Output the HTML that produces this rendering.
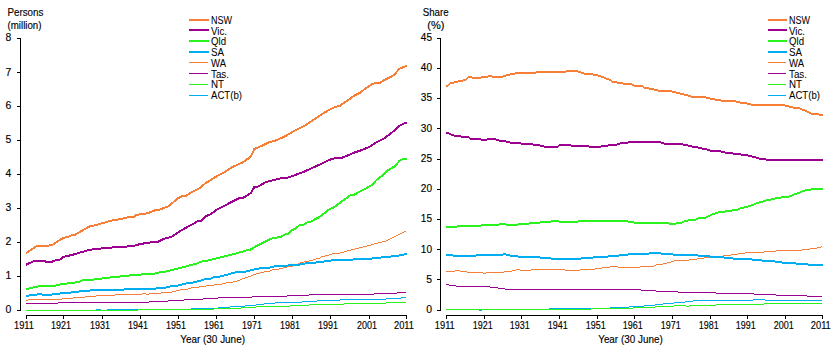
<!DOCTYPE html><html><head><meta charset="utf-8"><style>html,body{margin:0;padding:0;background:#fff;width:834px;height:352px;overflow:hidden}svg{display:block}text{font-family:"Liberation Sans",sans-serif;font-size:11px;fill:#000;stroke:#000;stroke-width:0.15px}</style></head><body>
<svg width="834" height="352" viewBox="0 0 834 352">
<path fill="#00AEEF" shape-rendering="crispEdges" d="M26,310h70v1h-70zM96,309h5v1h-5zM101,310h6v1h-6zM107,309h84v1h-84zM191,308h27v1h-27zM218,307h12v1h-12zM230,306h15v1h-15zM245,305h11v1h-11zM256,304h8v1h-8zM264,303h11v1h-11zM275,302h27v1h-27zM302,301h15v1h-15zM317,300h23v1h-23zM340,299h46v1h-46zM386,298h15v1h-15zM401,297h5v1h-5z"/>
<path fill="#2AF21C" shape-rendering="crispEdges" d="M26,310h112v1h-112zM138,309h76v1h-76zM214,308h27v1h-27zM241,307h15v1h-15zM256,306h34v1h-34zM290,305h19v1h-19zM309,304h35v1h-35zM344,303h42v1h-42zM386,302h20v1h-20z"/>
<path fill="#9D0090" shape-rendering="crispEdges" d="M26,303h32v1h-32zM58,302h91v1h-91zM149,301h19v1h-19zM168,300h16v1h-16zM184,299h19v1h-19zM203,298h15v1h-15zM218,297h34v1h-34zM252,296h35v1h-35zM287,295h22v1h-22zM309,294h65v1h-65zM374,293h23v1h-23zM397,292h9v1h-9z"/>
<path fill="none" stroke="#F67E36" stroke-width="1" stroke-linejoin="round" shape-rendering="crispEdges" d="M26.00,300.50M406.00,231.50"/>
<path fill="#F67E36" shape-rendering="crispEdges" d="M26,300h2v1h-2zM28,299h34v1h-34zM62,298h11v1h-11zM73,297h12v1h-12zM85,296h11v1h-11zM96,295h19v1h-19zM115,294h27v1h-27zM142,293h4v1h-4zM146,294h3v1h-3zM149,293h12v1h-12zM161,292h11v1h-11zM172,291h4v1h-4zM176,290h4v1h-4zM180,289h8v1h-8zM188,288h3v1h-3zM191,287h8v1h-8zM199,286h7v1h-7zM206,285h8v1h-8zM214,284h8v1h-8zM222,283h4v1h-4zM226,282h7v1h-7zM233,281h4v1h-4zM237,280h3v1h-3zM240,279h2v1h-2zM242,278h3v1h-3zM245,277h3v1h-3zM248,276h3v1h-3zM251,275h2v1h-2zM253,274h3v1h-3zM256,273h4v1h-4zM260,272h4v1h-4zM264,271h6v1h-6zM270,270h2v1h-2zM272,269h7v1h-7zM279,268h4v1h-4zM283,267h4v1h-4zM287,266h6v1h-6zM293,265h3v1h-3zM296,264h2v1h-2zM298,263h2v1h-2zM300,262h4v1h-4zM304,261h5v1h-5zM309,260h4v1h-4zM313,259h3v1h-3zM316,258h4v1h-4zM320,257h1v1h-1zM321,256h4v1h-4zM325,255h4v1h-4zM329,254h3v1h-3zM332,253h8v1h-8zM340,252h4v1h-4zM344,251h3v1h-3zM347,250h4v1h-4zM351,249h4v1h-4zM355,248h4v1h-4zM359,247h4v1h-4zM363,246h4v1h-4zM367,245h4v1h-4zM371,244h3v1h-3zM374,243h4v1h-4zM378,242h4v1h-4zM382,241h4v1h-4zM386,240h2v1h-2zM388,239h2v1h-2zM390,238h2v1h-2zM392,237h2v1h-2zM394,236h2v1h-2zM396,235h2v1h-2zM398,234h2v1h-2zM400,233h2v1h-2zM402,232h2v1h-2zM404,231h2v1h-2z"/>
<path fill="none" stroke="#00AEEF" stroke-width="2" stroke-linejoin="round" shape-rendering="crispEdges" d="M26.00,296.00M407.00,254.00"/>
<path fill="#00AEEF" shape-rendering="crispEdges" d="M26,295h3v2h-3zM29,294h8v2h-8zM37,293h5v2h-5zM42,294h10v2h-10zM52,293h8v2h-8zM60,292h11v2h-11zM71,291h8v2h-8zM79,290h11v2h-11zM90,289h34v2h-34zM124,288h32v2h-32zM156,287h10v2h-10zM166,286h4v2h-4zM170,285h8v2h-8zM178,284h4v2h-4zM182,283h4v2h-4zM186,282h7v2h-7zM193,281h4v2h-4zM197,280h4v2h-4zM201,279h3v2h-3zM204,278h7v2h-7zM211,277h2v2h-2zM213,276h7v2h-7zM220,275h4v2h-4zM224,274h4v2h-4zM228,273h3v2h-3zM231,272h4v2h-4zM235,271h11v2h-11zM246,270h4v2h-4zM250,269h4v2h-4zM254,268h5v2h-5zM259,267h11v2h-11zM270,266h4v2h-4zM274,265h14v2h-14zM288,264h12v2h-12zM300,263h5v2h-5zM305,262h11v2h-11zM316,261h8v2h-8zM324,260h7v2h-7zM331,259h22v2h-22zM353,258h19v2h-19zM372,257h9v2h-9zM381,256h10v2h-10zM391,255h8v2h-8zM399,254h5v2h-5zM404,253h3v2h-3z"/>
<path fill="none" stroke="#2AF21C" stroke-width="2" stroke-linejoin="round" shape-rendering="crispEdges" d="M26.00,289.00M250.00,250.00L256.80,245.80L263.30,242.60L273.50,237.70L276.70,237.70L278.40,236.70L281.10,236.70L286.50,233.70L288.10,233.70L292.40,230.00L295.60,228.60L299.90,224.80L303.70,224.70L308.10,221.80L311.10,221.50L319.20,217.10L329.50,209.20L334.00,207.30L344.30,199.60L350.20,195.50L353.20,195.20L359.50,191.80L365.80,188.50L372.00,184.80L377.00,179.50L382.00,175.80L388.30,170.10L394.50,166.40L399.50,160.80L403.30,158.90L407.00,158.90"/>
<path fill="#2AF21C" shape-rendering="crispEdges" d="M26,288h3v2h-3zM29,287h4v2h-4zM33,286h5v2h-5zM38,285h18v2h-18zM56,284h4v2h-4zM60,283h7v2h-7zM67,282h8v2h-8zM75,281h5v2h-5zM80,280h2v2h-2zM82,279h12v2h-12zM94,278h8v2h-8zM102,277h8v2h-8zM110,276h10v2h-10zM120,275h9v2h-9zM129,274h12v2h-12zM141,273h14v2h-14zM155,272h4v2h-4zM159,271h7v2h-7zM166,270h4v2h-4zM170,269h4v2h-4zM174,268h4v2h-4zM178,267h4v2h-4zM182,266h4v2h-4zM186,265h3v2h-3zM189,264h4v2h-4zM193,263h4v2h-4zM197,262h2v2h-2zM199,261h3v2h-3zM202,260h6v2h-6zM208,259h4v2h-4zM212,258h4v2h-4zM216,257h4v2h-4zM220,256h4v2h-4zM224,255h4v2h-4zM228,254h4v2h-4zM232,253h4v2h-4zM236,252h3v2h-3zM239,251h4v2h-4zM243,250h3v2h-3zM246,249h4v2h-4z"/>
<path fill="none" stroke="#9D0090" stroke-width="2" stroke-linejoin="round" shape-rendering="crispEdges" d="M26.00,264.70L32.80,261.60L38.30,260.70L45.10,260.90L45.80,262.00L51.90,262.00L53.30,260.90L60.10,259.60L62.80,257.10L72.40,254.80L90.10,249.70L99.70,248.60L106.50,248.00L117.40,247.00L126.00,246.60L134.50,245.70L140.20,244.00L151.60,242.30L158.70,241.50L164.40,238.60L171.50,236.90L178.60,232.00L187.10,227.00L194.20,223.40L198.40,220.60L201.30,220.60L205.50,216.30L211.20,213.90L216.90,209.70L225.40,205.40L230.00,202.80L238.90,198.40L243.30,197.70L250.70,193.20L254.40,186.90L258.10,186.60L265.50,182.20L274.30,179.90L281.70,178.20L289.10,177.40L292.00,176.20L298.00,174.00L303.90,171.80L312.70,167.70L321.60,163.70L326.00,161.50L331.90,158.80L336.30,158.10L342.20,157.70L349.60,154.70L354.10,152.60L360.00,150.70L368.80,147.30L376.20,142.30L385.10,137.90L392.50,132.00L399.90,125.60L405.80,122.60L407.00,122.91"/>
<path fill="none" stroke="#F67E36" stroke-width="2" stroke-linejoin="round" shape-rendering="crispEdges" d="M26.00,253.20L37.50,245.60L48.10,245.60L52.50,244.80L63.70,237.60L67.50,237.30L72.40,234.70L75.10,234.70L90.10,226.10L94.20,225.50L107.90,221.60L110.60,220.70L120.00,219.20L128.50,217.20L134.20,216.70L137.00,214.60L143.40,214.30L148.40,212.90L155.50,210.10L159.80,209.60L164.00,207.80L169.00,206.10L176.80,199.00L182.50,195.90L186.00,195.90L189.60,193.30L199.50,188.30L205.20,183.40L216.60,176.30L224.00,172.40L232.90,166.80L243.20,162.10L250.60,156.80L254.30,149.10L260.90,146.20L269.80,142.00L275.70,140.50L284.60,136.60L293.40,131.40L303.80,126.20L314.90,118.80L328.20,110.30L335.50,106.70L339.20,106.30L348.80,99.60L354.40,95.50L360.70,92.40L364.10,89.50L370.90,85.00L373.20,83.60L376.60,83.30L380.00,82.70L385.70,79.30L391.40,76.50L394.80,74.20L399.30,68.70L402.70,67.40L407.00,65.70"/>
<path d="M20.5,38 V311 M17,38.5 H20.5 M17,72.5 H20.5 M17,106.5 H20.5 M17,140.5 H20.5 M17,174.5 H20.5 M17,208.5 H20.5 M17,242.5 H20.5 M17,276.5 H20.5 M17,310.5 H20.5" stroke="#000" stroke-width="1" fill="none" shape-rendering="crispEdges"/>
<text x="11.4" y="41" text-anchor="end" textLength="5.8" lengthAdjust="spacingAndGlyphs">8</text>
<text x="11.4" y="76" text-anchor="end" textLength="5.8" lengthAdjust="spacingAndGlyphs">7</text>
<text x="11.4" y="109" text-anchor="end" textLength="5.8" lengthAdjust="spacingAndGlyphs">6</text>
<text x="11.4" y="143" text-anchor="end" textLength="5.8" lengthAdjust="spacingAndGlyphs">5</text>
<text x="11.4" y="177" text-anchor="end" textLength="5.8" lengthAdjust="spacingAndGlyphs">4</text>
<text x="11.4" y="211" text-anchor="end" textLength="5.8" lengthAdjust="spacingAndGlyphs">3</text>
<text x="11.4" y="245" text-anchor="end" textLength="5.8" lengthAdjust="spacingAndGlyphs">2</text>
<text x="11.4" y="279" text-anchor="end" textLength="5.8" lengthAdjust="spacingAndGlyphs">1</text>
<text x="11.4" y="313" text-anchor="end" textLength="5.8" lengthAdjust="spacingAndGlyphs">0</text>
<path d="M26,315.5 H407.0 M26.5,315 V319 M63.5,315 V319 M102.5,315 V319 M140.5,315 V319 M178.5,315 V319 M216.5,315 V319 M254.5,315 V319 M292.5,315 V319 M330.5,315 V319 M369.5,315 V319 M406.5,315 V319" stroke="#000" stroke-width="1" fill="none" shape-rendering="crispEdges"/>
<text x="24" y="329" text-anchor="middle" textLength="20" lengthAdjust="spacingAndGlyphs">1911</text>
<text x="61" y="329" text-anchor="middle" textLength="20" lengthAdjust="spacingAndGlyphs">1921</text>
<text x="100" y="329" text-anchor="middle" textLength="20" lengthAdjust="spacingAndGlyphs">1931</text>
<text x="138" y="329" text-anchor="middle" textLength="20" lengthAdjust="spacingAndGlyphs">1941</text>
<text x="176" y="329" text-anchor="middle" textLength="20" lengthAdjust="spacingAndGlyphs">1951</text>
<text x="214" y="329" text-anchor="middle" textLength="20" lengthAdjust="spacingAndGlyphs">1961</text>
<text x="252" y="329" text-anchor="middle" textLength="20" lengthAdjust="spacingAndGlyphs">1971</text>
<text x="290" y="329" text-anchor="middle" textLength="20" lengthAdjust="spacingAndGlyphs">1981</text>
<text x="328" y="329" text-anchor="middle" textLength="20" lengthAdjust="spacingAndGlyphs">1991</text>
<text x="367" y="329" text-anchor="middle" textLength="20" lengthAdjust="spacingAndGlyphs">2001</text>
<text x="404" y="329" text-anchor="middle" textLength="20" lengthAdjust="spacingAndGlyphs">2011</text>
<path fill="#00AEEF" shape-rendering="crispEdges" d="M446,309h33v1h-33zM479,310h3v1h-3zM482,309h67v1h-67zM549,308h61v1h-61zM610,307h19v1h-19zM629,306h15v1h-15zM644,305h11v1h-11zM655,304h8v1h-8zM663,303h11v1h-11zM674,302h11v1h-11zM685,301h8v1h-8zM693,300h60v1h-60zM753,299h12v1h-12zM765,300h57v1h-57z"/>
<path fill="#2AF21C" shape-rendering="crispEdges" d="M446,309h145v1h-145zM591,308h42v1h-42zM633,307h22v1h-22zM655,306h19v1h-19zM674,305h12v1h-12zM686,306h3v1h-3zM689,305h27v1h-27zM716,304h48v1h-48zM764,303h58v1h-58z"/>
<path fill="#9D0090" shape-rendering="crispEdges" d="M446,284h3v1h-3zM449,285h7v1h-7zM456,286h34v1h-34zM490,287h8v1h-8zM498,288h7v1h-7zM505,289h136v1h-136zM641,290h15v1h-15zM656,291h22v1h-22zM678,292h38v1h-38zM716,293h38v1h-38zM754,294h22v1h-22zM776,295h31v1h-31zM807,296h15v1h-15z"/>
<path fill="none" stroke="#F67E36" stroke-width="1" stroke-linejoin="round" shape-rendering="crispEdges" d="M446.00,271.50M822.00,246.50"/>
<path fill="#F67E36" shape-rendering="crispEdges" d="M446,271h9v1h-9zM455,270h5v1h-5zM460,271h7v1h-7zM467,272h16v1h-16zM483,273h3v1h-3zM486,272h18v1h-18zM504,271h8v1h-8zM512,270h4v1h-4zM516,269h4v1h-4zM520,270h11v1h-11zM531,269h34v1h-34zM565,270h15v1h-15zM580,269h15v1h-15zM595,268h7v1h-7zM602,267h8v1h-8zM610,266h8v1h-8zM618,267h22v1h-22zM640,266h14v1h-14zM654,265h2v1h-2zM656,264h7v1h-7zM663,263h4v1h-4zM667,262h4v1h-4zM671,261h3v1h-3zM674,260h15v1h-15zM689,259h8v1h-8zM697,258h7v1h-7zM704,257h6v1h-6zM710,256h13v1h-13zM723,255h8v1h-8zM731,254h7v1h-7zM738,253h7v1h-7zM745,252h19v1h-19zM764,251h12v1h-12zM776,250h26v1h-26zM802,249h8v1h-8zM810,248h7v1h-7zM817,247h4v1h-4zM821,246h1v1h-1z"/>
<path fill="none" stroke="#00AEEF" stroke-width="2" stroke-linejoin="round" shape-rendering="crispEdges" d="M446.00,255.00M823.00,265.00"/>
<path fill="#00AEEF" shape-rendering="crispEdges" d="M446,254h7v2h-7zM453,255h23v2h-23zM476,254h27v2h-27zM503,253h3v2h-3zM506,254h4v2h-4zM510,255h8v2h-8zM518,256h22v2h-22zM540,257h11v2h-11zM551,258h30v2h-30zM581,257h12v2h-12zM593,256h15v2h-15zM608,255h11v2h-11zM619,254h9v2h-9zM628,253h21v2h-21zM649,252h12v2h-12zM661,253h12v2h-12zM673,254h25v2h-25zM698,255h12v2h-12zM710,256h14v2h-14zM724,257h9v2h-9zM733,258h19v2h-19zM752,259h10v2h-10zM762,260h13v2h-13zM775,261h7v2h-7zM782,262h14v2h-14zM796,263h12v2h-12zM808,264h15v2h-15z"/>
<path fill="none" stroke="#2AF21C" stroke-width="2" stroke-linejoin="round" shape-rendering="crispEdges" d="M446.00,227.00M823.00,189.00"/>
<path fill="#2AF21C" shape-rendering="crispEdges" d="M446,226h11v2h-11zM457,225h24v2h-24zM481,224h18v2h-18zM499,223h7v2h-7zM506,224h12v2h-12zM518,223h11v2h-11zM529,222h11v2h-11zM540,221h11v2h-11zM551,220h8v2h-8zM559,221h19v2h-19zM578,220h50v2h-50zM628,221h6v2h-6zM634,222h35v2h-35zM669,223h7v2h-7zM676,222h6v2h-6zM682,221h2v2h-2zM684,220h4v2h-4zM688,219h8v2h-8zM696,218h2v2h-2zM698,217h8v2h-8zM706,216h2v2h-2zM708,215h2v2h-2zM710,214h2v2h-2zM712,213h3v2h-3zM715,212h3v2h-3zM718,211h7v2h-7zM725,210h7v2h-7zM732,209h6v2h-6zM738,208h2v2h-2zM740,207h4v2h-4zM744,206h4v2h-4zM748,205h3v2h-3zM751,204h3v2h-3zM754,203h2v2h-2zM756,202h3v2h-3zM759,201h4v2h-4zM763,200h3v2h-3zM766,199h5v2h-5zM771,198h4v2h-4zM775,197h6v2h-6zM781,196h8v2h-8zM789,195h3v2h-3zM792,194h2v2h-2zM794,193h3v2h-3zM797,192h3v2h-3zM800,191h2v2h-2zM802,190h3v2h-3zM805,189h6v2h-6zM811,188h12v2h-12z"/>
<path fill="none" stroke="#9D0090" stroke-width="2" stroke-linejoin="round" shape-rendering="crispEdges" d="M446.00,133.00M823.00,160.00"/>
<path fill="#9D0090" shape-rendering="crispEdges" d="M446,132h3v2h-3zM449,133h2v2h-2zM451,134h3v2h-3zM454,135h7v2h-7zM461,136h8v2h-8zM469,137h1v2h-1zM470,138h11v2h-11zM481,139h6v2h-6zM487,138h9v2h-9zM496,139h3v2h-3zM499,140h7v2h-7zM506,141h4v2h-4zM510,142h11v2h-11zM521,143h12v2h-12zM533,144h7v2h-7zM540,145h4v2h-4zM544,146h14v2h-14zM558,145h1v2h-1zM559,144h12v2h-12zM571,145h18v2h-18zM589,146h12v2h-12zM601,145h7v2h-7zM608,144h9v2h-9zM617,143h3v2h-3zM620,142h8v2h-8zM628,141h33v2h-33zM661,142h3v2h-3zM664,143h19v2h-19zM683,144h5v2h-5zM688,145h4v2h-4zM692,146h6v2h-6zM698,147h4v2h-4zM702,148h5v2h-5zM707,149h3v2h-3zM710,150h11v2h-11zM721,151h4v2h-4zM725,152h8v2h-8zM733,153h8v2h-8zM741,154h7v2h-7zM748,155h4v2h-4zM752,156h4v2h-4zM756,157h3v2h-3zM759,158h7v2h-7zM766,159h57v2h-57z"/>
<path fill="none" stroke="#F67E36" stroke-width="2" stroke-linejoin="round" shape-rendering="crispEdges" d="M446.00,86.00M823.00,115.00"/>
<path fill="#F67E36" shape-rendering="crispEdges" d="M446,85h2v2h-2zM448,84h1v2h-1zM449,83h1v2h-1zM450,82h4v2h-4zM454,81h4v2h-4zM458,80h5v2h-5zM463,79h3v2h-3zM466,78h1v2h-1zM467,77h1v2h-1zM468,76h4v2h-4zM472,77h9v2h-9zM481,76h7v2h-7zM488,75h4v2h-4zM492,76h11v2h-11zM503,75h3v2h-3zM506,74h4v2h-4zM510,73h5v2h-5zM515,72h21v2h-21zM536,71h30v2h-30zM566,70h12v2h-12zM578,71h3v2h-3zM581,72h3v2h-3zM584,73h9v2h-9zM593,74h5v2h-5zM598,75h3v2h-3zM601,76h3v2h-3zM604,77h2v2h-2zM606,78h3v2h-3zM609,79h2v2h-2zM611,80h1v2h-1zM612,81h5v2h-5zM617,82h6v2h-6zM623,83h9v2h-9zM632,84h2v2h-2zM634,85h9v2h-9zM643,86h1v2h-1zM644,87h5v2h-5zM649,88h5v2h-5zM654,89h4v2h-4zM658,90h14v2h-14zM672,91h4v2h-4zM676,92h4v2h-4zM680,93h4v2h-4zM684,94h4v2h-4zM688,95h3v2h-3zM691,96h15v2h-15zM706,97h4v2h-4zM710,98h5v2h-5zM715,99h6v2h-6zM721,100h15v2h-15zM736,101h4v2h-4zM740,102h7v2h-7zM747,103h4v2h-4zM751,104h34v2h-34zM785,105h4v2h-4zM789,106h4v2h-4zM793,107h7v2h-7zM800,108h2v2h-2zM802,109h3v2h-3zM805,110h2v2h-2zM807,111h2v2h-2zM809,112h2v2h-2zM811,113h8v2h-8zM819,114h4v2h-4z"/>
<path d="M440.5,38 V311 M437,38.5 H440.5 M437,68.5 H440.5 M437,98.5 H440.5 M437,128.5 H440.5 M437,159.5 H440.5 M437,189.5 H440.5 M437,219.5 H440.5 M437,249.5 H440.5 M437,279.5 H440.5 M437,310.5 H440.5" stroke="#000" stroke-width="1" fill="none" shape-rendering="crispEdges"/>
<text x="432" y="41" text-anchor="end" textLength="11.2" lengthAdjust="spacingAndGlyphs">45</text>
<text x="432" y="71" text-anchor="end" textLength="11.2" lengthAdjust="spacingAndGlyphs">40</text>
<text x="432" y="101" text-anchor="end" textLength="11.2" lengthAdjust="spacingAndGlyphs">35</text>
<text x="432" y="132" text-anchor="end" textLength="11.2" lengthAdjust="spacingAndGlyphs">30</text>
<text x="432" y="162" text-anchor="end" textLength="11.2" lengthAdjust="spacingAndGlyphs">25</text>
<text x="432" y="192" text-anchor="end" textLength="11.2" lengthAdjust="spacingAndGlyphs">20</text>
<text x="432" y="222" text-anchor="end" textLength="11.2" lengthAdjust="spacingAndGlyphs">15</text>
<text x="432" y="253" text-anchor="end" textLength="11.2" lengthAdjust="spacingAndGlyphs">10</text>
<text x="432" y="283" text-anchor="end" textLength="5.8" lengthAdjust="spacingAndGlyphs">5</text>
<text x="432" y="313" text-anchor="end" textLength="5.8" lengthAdjust="spacingAndGlyphs">0</text>
<path d="M446,315.5 H823.0 M446.5,315 V319 M484.5,315 V319 M521.5,315 V319 M559.5,315 V319 M597.5,315 V319 M634.5,315 V319 M672.5,315 V319 M710.5,315 V319 M747.5,315 V319 M785.5,315 V319 M822.5,315 V319" stroke="#000" stroke-width="1" fill="none" shape-rendering="crispEdges"/>
<text x="444.8" y="329" text-anchor="middle" textLength="20" lengthAdjust="spacingAndGlyphs">1911</text>
<text x="482.8" y="329" text-anchor="middle" textLength="20" lengthAdjust="spacingAndGlyphs">1921</text>
<text x="519.8" y="329" text-anchor="middle" textLength="20" lengthAdjust="spacingAndGlyphs">1931</text>
<text x="557.8" y="329" text-anchor="middle" textLength="20" lengthAdjust="spacingAndGlyphs">1941</text>
<text x="595.8" y="329" text-anchor="middle" textLength="20" lengthAdjust="spacingAndGlyphs">1951</text>
<text x="632.8" y="329" text-anchor="middle" textLength="20" lengthAdjust="spacingAndGlyphs">1961</text>
<text x="670.8" y="329" text-anchor="middle" textLength="20" lengthAdjust="spacingAndGlyphs">1971</text>
<text x="708.8" y="329" text-anchor="middle" textLength="20" lengthAdjust="spacingAndGlyphs">1981</text>
<text x="745.8" y="329" text-anchor="middle" textLength="20" lengthAdjust="spacingAndGlyphs">1991</text>
<text x="783.8" y="329" text-anchor="middle" textLength="20" lengthAdjust="spacingAndGlyphs">2001</text>
<text x="820.8" y="329" text-anchor="middle" textLength="20" lengthAdjust="spacingAndGlyphs">2011</text>
<text x="25.4" y="16" text-anchor="middle" textLength="36" lengthAdjust="spacingAndGlyphs">Persons</text>
<text x="24.5" y="28.5" text-anchor="middle" textLength="34" lengthAdjust="spacingAndGlyphs">(million)</text>
<text x="435.7" y="16" text-anchor="middle" textLength="26" lengthAdjust="spacingAndGlyphs">Share</text>
<text x="435.8" y="28.5" text-anchor="middle">(%)</text>
<text x="180.2" y="343" textLength="64.8" lengthAdjust="spacingAndGlyphs">Year (30 June)</text>
<text x="598.2" y="343" textLength="64.5" lengthAdjust="spacingAndGlyphs">Year (30 June)</text>
<line x1="189" y1="20" x2="209" y2="20" stroke="#F67E36" stroke-width="2" shape-rendering="crispEdges"/>
<text x="211" y="24.0" style="font-size:10px;stroke-width:0.05px" textLength="21" lengthAdjust="spacingAndGlyphs">NSW</text>
<line x1="189" y1="30" x2="209" y2="30" stroke="#9D0090" stroke-width="2" shape-rendering="crispEdges"/>
<text x="211" y="35.0" style="font-size:10px;stroke-width:0.05px" textLength="16" lengthAdjust="spacingAndGlyphs">Vic.</text>
<line x1="189" y1="41" x2="209" y2="41" stroke="#2AF21C" stroke-width="2" shape-rendering="crispEdges"/>
<text x="211" y="45.0" style="font-size:10px;stroke-width:0.05px" textLength="15" lengthAdjust="spacingAndGlyphs">Qld</text>
<line x1="189" y1="52" x2="209" y2="52" stroke="#00AEEF" stroke-width="2" shape-rendering="crispEdges"/>
<text x="211" y="56.0" style="font-size:10px;stroke-width:0.05px" textLength="13" lengthAdjust="spacingAndGlyphs">SA</text>
<line x1="189" y1="62.5" x2="208" y2="62.5" stroke="#F67E36" stroke-width="1" shape-rendering="crispEdges"/>
<text x="211" y="67.0" style="font-size:10px;stroke-width:0.05px" textLength="15" lengthAdjust="spacingAndGlyphs">WA</text>
<line x1="189" y1="73.5" x2="208" y2="73.5" stroke="#9D0090" stroke-width="1" shape-rendering="crispEdges"/>
<text x="211" y="78.0" style="font-size:10px;stroke-width:0.05px" textLength="18" lengthAdjust="spacingAndGlyphs">Tas.</text>
<line x1="189" y1="84.5" x2="208" y2="84.5" stroke="#2AF21C" stroke-width="1" shape-rendering="crispEdges"/>
<text x="211" y="88.0" style="font-size:10px;stroke-width:0.05px" textLength="13" lengthAdjust="spacingAndGlyphs">NT</text>
<line x1="189" y1="95.5" x2="208" y2="95.5" stroke="#00AEEF" stroke-width="1" shape-rendering="crispEdges"/>
<text x="211" y="99.0" style="font-size:10px;stroke-width:0.05px" textLength="31" lengthAdjust="spacingAndGlyphs">ACT(b)</text>
<line x1="768" y1="20" x2="787" y2="20" stroke="#F67E36" stroke-width="2" shape-rendering="crispEdges"/>
<text x="789" y="24.0" style="font-size:10px;stroke-width:0.05px" textLength="21" lengthAdjust="spacingAndGlyphs">NSW</text>
<line x1="768" y1="30" x2="787" y2="30" stroke="#9D0090" stroke-width="2" shape-rendering="crispEdges"/>
<text x="789" y="35.0" style="font-size:10px;stroke-width:0.05px" textLength="16" lengthAdjust="spacingAndGlyphs">Vic.</text>
<line x1="768" y1="41" x2="787" y2="41" stroke="#2AF21C" stroke-width="2" shape-rendering="crispEdges"/>
<text x="789" y="45.0" style="font-size:10px;stroke-width:0.05px" textLength="15" lengthAdjust="spacingAndGlyphs">Qld</text>
<line x1="768" y1="52" x2="787" y2="52" stroke="#00AEEF" stroke-width="2" shape-rendering="crispEdges"/>
<text x="789" y="56.0" style="font-size:10px;stroke-width:0.05px" textLength="13" lengthAdjust="spacingAndGlyphs">SA</text>
<line x1="768" y1="62.5" x2="786" y2="62.5" stroke="#F67E36" stroke-width="1" shape-rendering="crispEdges"/>
<text x="789" y="67.0" style="font-size:10px;stroke-width:0.05px" textLength="15" lengthAdjust="spacingAndGlyphs">WA</text>
<line x1="768" y1="73.5" x2="786" y2="73.5" stroke="#9D0090" stroke-width="1" shape-rendering="crispEdges"/>
<text x="789" y="78.0" style="font-size:10px;stroke-width:0.05px" textLength="18" lengthAdjust="spacingAndGlyphs">Tas.</text>
<line x1="768" y1="84.5" x2="786" y2="84.5" stroke="#2AF21C" stroke-width="1" shape-rendering="crispEdges"/>
<text x="789" y="88.0" style="font-size:10px;stroke-width:0.05px" textLength="13" lengthAdjust="spacingAndGlyphs">NT</text>
<line x1="768" y1="95.5" x2="786" y2="95.5" stroke="#00AEEF" stroke-width="1" shape-rendering="crispEdges"/>
<text x="789" y="99.0" style="font-size:10px;stroke-width:0.05px" textLength="31" lengthAdjust="spacingAndGlyphs">ACT(b)</text>
</svg></body></html>
